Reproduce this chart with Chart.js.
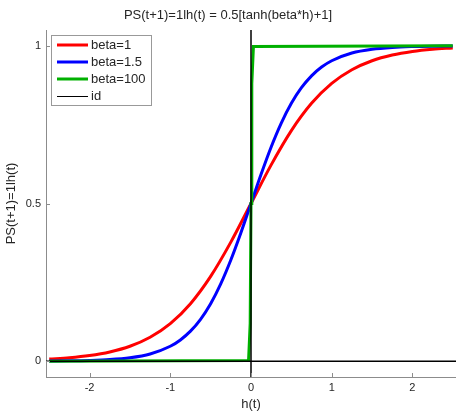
<!DOCTYPE html>
<html>
<head>
<meta charset="utf-8">
<script src="https://cdn.jsdelivr.net/npm/chart.js@4/dist/chart.umd.min.js"></script>
<style>
  html, body { margin: 0; padding: 0; background: #fff; }
  canvas { display: block; }
</style>
</head>
<body>
<canvas id="c" width="456" height="416"></canvas>
<script>
// ---- data ----
const titleText = "PS(t+1)=1lh(t) = 0.5[tanh(beta*h)+1]";
const xTitle = "h(t)";
const yTitle = "PS(t+1)=1lh(t)";
const xTickVals = [-2, -1, 0, 1, 2];
const xTickLabels = ["-2", "-1", "0", "1", "2"];
const yTickVals = [0, 0.5, 1];
const yTickLabels = ["0", "0.5", "1"];

const h1 = [-2.5, -2.25, -2, -1.75, -1.5, -1.25, -1, -0.75, -0.5, -0.25, 0,
            0.25, 0.5, 0.75, 1, 1.25, 1.5, 1.75, 2, 2.25, 2.5];
const beta1 = [0.0067, 0.0110, 0.0180, 0.0293, 0.0474, 0.0759, 0.1192, 0.1824, 0.2689, 0.3775, 0.5,
               0.6225, 0.7311, 0.8176, 0.8808, 0.9241, 0.9526, 0.9707, 0.9820, 0.9890, 0.9933];

const h15 = [-2.5, -2.25, -2, -1.75, -1.5, -1.25, -1, -0.875, -0.75, -0.625, -0.5, -0.375, -0.25, -0.125, 0,
             0.125, 0.25, 0.375, 0.5, 0.625, 0.75, 0.875, 1, 1.25, 1.5, 1.75, 2, 2.25, 2.5];
const beta15 = [0.0006, 0.0012, 0.0025, 0.0052, 0.0110, 0.0230, 0.0474, 0.0675, 0.0953, 0.1330, 0.1824, 0.2451, 0.3208, 0.4073, 0.5,
                0.5927, 0.6792, 0.7549, 0.8176, 0.8670, 0.9047, 0.9325, 0.9526, 0.9770, 0.9890, 0.9948, 0.9975, 0.9988, 0.9994];

const h100 = [-2.5, -0.03, -0.01, 0, 0.01, 0.03, 2.5];
const beta100 = [0, 0.0025, 0.12, 0.5, 0.88, 0.9975, 1];

const idX = [0, 0, null, -2.6, 2.6];
const idY = [-0.06, 1.06, null, 0, 0];

const seriesLabels = ["beta=1", "beta=1.5", "beta=100", "id"];
const seriesColors = ["#ff0000", "#0000ff", "#00b000", "#000000"];

function pts(xs, ys) { return xs.map((x, i) => ({ x: x, y: ys[i] })); }

const FONT = "'Liberation Sans', Arial, Helvetica, sans-serif";
const AXIS = "#8c8c8c";
const TEXT = "#262626";

const insideTicks = {
  id: 'insideTicks',
  afterDraw(chart) {
    const ctx = chart.ctx, xs = chart.scales.x, ys = chart.scales.y, a = chart.chartArea;
    ctx.save();
    ctx.strokeStyle = AXIS; ctx.lineWidth = 1;
    ctx.beginPath();
    xTickVals.forEach(v => { const p = Math.round(xs.getPixelForValue(v)) + 0.5; ctx.moveTo(p, a.bottom); ctx.lineTo(p, a.bottom - 4); });
    yTickVals.forEach(v => { const p = Math.round(ys.getPixelForValue(v)) + 0.5; ctx.moveTo(a.left, p); ctx.lineTo(a.left + 4, p); });
    ctx.stroke();
    ctx.restore();
  }
};

const boxLegend = {
  id: 'boxLegend',
  afterDraw(chart) {
    const ctx = chart.ctx;
    const bx = 51.5, by = 35.5, bw = 100, bh = 70;
    ctx.save();
    ctx.fillStyle = "#fff";
    ctx.fillRect(bx, by, bw, bh);
    ctx.strokeStyle = "#999"; ctx.lineWidth = 1;
    ctx.strokeRect(bx, by, bw, bh);
    ctx.font = "13px " + FONT;
    ctx.textBaseline = "middle";
    ctx.textAlign = "left";
    chart.data.datasets.forEach((ds, i) => {
      const y = 45 + i * 17;
      const w = ds.borderWidth < 2 ? 1 : 3;
      const yy = w === 1 ? y + 0.5 : y;
      ctx.strokeStyle = ds.borderColor;
      ctx.lineWidth = w;
      ctx.beginPath(); ctx.moveTo(57, yy); ctx.lineTo(88, yy); ctx.stroke();
      ctx.fillStyle = TEXT;
      ctx.fillText(ds.label, 91, y + 0.5);
    });
    ctx.restore();
  }
};

new Chart(document.getElementById('c'), {
  type: 'scatter',
  data: {
    datasets: [
      { label: seriesLabels[0], data: pts(h1, beta1), borderColor: seriesColors[0], borderWidth: 3, showLine: true, pointRadius: 0, cubicInterpolationMode: 'monotone', order: 4 },
      { label: seriesLabels[1], data: pts(h15, beta15), borderColor: seriesColors[1], borderWidth: 3, showLine: true, pointRadius: 0, cubicInterpolationMode: 'monotone', order: 3 },
      { label: seriesLabels[2], data: pts(h100, beta100), borderColor: seriesColors[2], borderWidth: 3, showLine: true, pointRadius: 0, tension: 0, order: 2 },
      { label: seriesLabels[3], data: pts(idX, idY), borderColor: seriesColors[3], borderWidth: 1.5, showLine: true, pointRadius: 0, spanGaps: false, tension: 0, order: 1 }
    ]
  },
  options: {
    responsive: false,
    animation: false,
    devicePixelRatio: 1,
    layout: { padding: 0 },
    plugins: {
      legend: { display: false },
      tooltip: { enabled: false },
      title: {
        display: true, text: titleText, color: TEXT,
        font: { family: FONT, size: 13, weight: 'normal' },
        padding: { top: 8, bottom: 6.4 }
      }
    },
    scales: {
      x: {
        type: 'linear', min: -2.54, max: 2.54,
        afterFit(s) { s.height = 39; },
        afterBuildTicks(s) { s.ticks = xTickVals.map(v => ({ value: v })); },
        ticks: { color: TEXT, font: { family: FONT, size: 11 }, padding: 4, maxRotation: 0,
                 callback: (v) => xTickLabels[xTickVals.indexOf(v)] },
        grid: { display: true, drawOnChartArea: false, drawTicks: false },
        border: { display: true, color: AXIS, width: 1 },
        title: { display: true, text: xTitle, color: TEXT, font: { family: FONT, size: 13 } }
      },
      y: {
        type: 'linear', min: -0.05, max: 1.05,
        afterFit(s) { s.width = 46; },
        afterBuildTicks(s) { s.ticks = yTickVals.map(v => ({ value: v })); },
        ticks: { color: TEXT, font: { family: FONT, size: 11 }, padding: 5,
                 callback: (v) => yTickLabels[yTickVals.indexOf(v)] },
        grid: { display: true, drawOnChartArea: false, drawTicks: false },
        border: { display: true, color: AXIS, width: 1 },
        title: { display: true, text: yTitle, color: TEXT, font: { family: FONT, size: 13 } }
      }
    }
  },
  plugins: [insideTicks, boxLegend]
});
</script>
</body>
</html>
